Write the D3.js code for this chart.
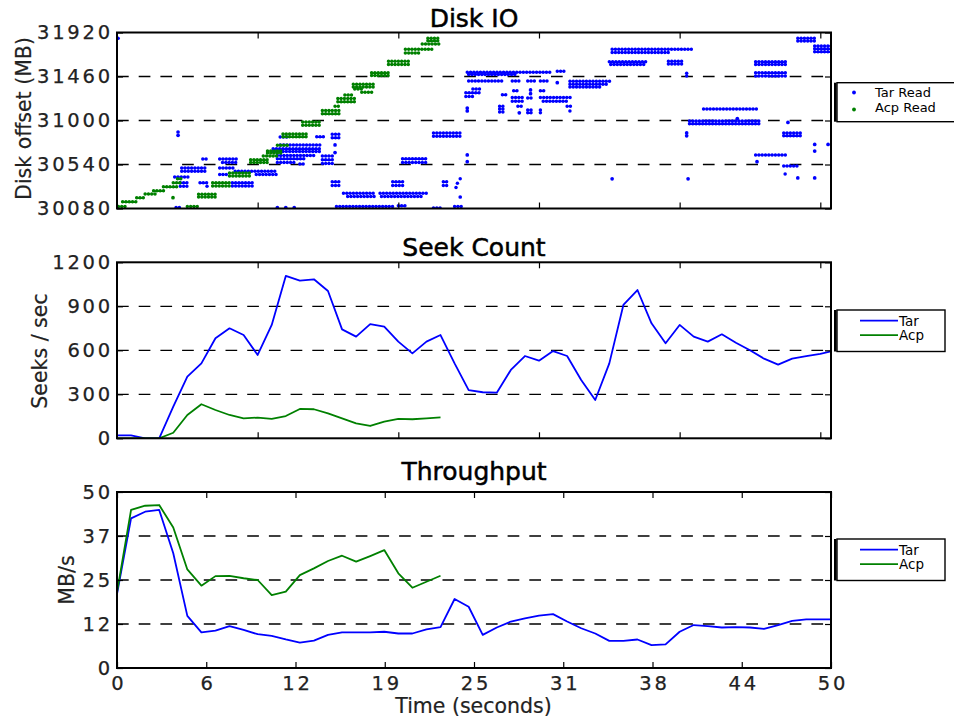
<!DOCTYPE html>
<html>
<head>
<meta charset="utf-8">
<script src="https://cdn.jsdelivr.net/npm/d3@7"></script>
<style>
  body { margin: 0; background: #fff; }
  svg { display: block; }
  text { font-family: "DejaVu Sans", sans-serif; }
</style>
</head>
<body>
<svg id="chart" width="954" height="719"></svg>
<script>
// ---- Disk IO trace: read extents as [start s, end s, offset MB] ----
const tarRuns = [
  [0.07,0.07,31860],
  [4.34,4.34,30880],[4.34,4.34,30845],
  [6.1,6.4,30597],
  [7.3,8.5,30597],[7.5,8.5,30560],
  [4.6,6.3,30503],[4.6,6.4,30470],
  [7.3,8.3,30503],
  [7.3,7.8,30435],[9.9,11.4,30435],
  [8.4,11.4,30470],
  [4.1,5.2,30409],
  [4.5,5.0,30350],[4.5,5.0,30312],
  [5.9,6.6,30350],[6.4,6.6,30312],
  [8.2,9.7,30350],[8.2,9.7,30315],
  [4.2,4.6,30090],
  [11.6,12.3,30827],
  [11.6,14.6,30745],
  [11.1,14.6,30705],[11.1,14.6,30675],
  [11.4,14.2,30635],[11.4,13.3,30600],
  [11.4,12.8,30560],[13.0,13.4,30545],
  [14.6,15.4,30630],[14.6,15.4,30590],[14.6,15.4,30550],
  [14.2,14.8,30830],
  [15.3,16.0,30855],[15.3,16.0,30820],
  [15.5,15.5,30745],[15.5,15.5,30665],
  [20.3,22.0,30600],[20.3,22.0,30562],
  [22.5,24.4,30870],[22.5,24.4,30835],
  [24.9,24.9,30640],[24.9,24.9,30570],
  [11.4,11.4,30090],[12.0,12.0,30090],[12.6,12.6,30090],
  [15.3,15.8,30360],[15.3,15.8,30320],
  [19.6,20.4,30360],[19.6,20.4,30320],
  [23.2,23.5,30360],[23.2,23.5,30320],
  [24.4,24.6,30390],[24.2,24.4,30345],[24.1,24.2,30300],
  [24.4,24.4,30200],
  [16.1,18.3,30240],[16.4,18.3,30205],
  [18.7,22.0,30240],[18.8,21.7,30205],
  [15.6,19.8,30100],[20.0,20.5,30110],
  [22.5,23.2,30085],[24.0,24.5,30100],
  [24.9,30.9,31505],[31.3,32.0,31515],[25.0,28.5,31480],
  [25.0,27.5,31413],[28.1,28.8,31413],[29.2,29.7,31413],[30.1,30.6,31413],[31.3,31.3,31395],
  [32.2,35.2,31410],[32.2,35.0,31380],[32.2,34.5,31350],
  [25.3,26.0,31330],[24.8,25.8,31290],[24.8,25.5,31250],
  [24.9,24.9,31130],[24.9,24.9,31100],
  [28.2,28.6,31310],[29.4,29.4,31320],[29.4,29.4,31280],[30.1,30.5,31310],
  [27.4,27.7,31270],
  [28.1,29.0,31240],[28.1,29.0,31200],[29.2,29.6,31235],
  [30.1,32.4,31240],[30.3,32.0,31200],
  [27.2,27.6,31150],[27.2,27.6,31120],[27.2,27.6,31090],
  [28.5,28.9,31150],[28.6,28.6,31080],
  [29.2,29.6,31110],[29.2,29.6,31080],
  [30.1,30.3,31110],[30.1,30.3,31080],
  [32.0,32.3,31150],[32.2,32.3,31100],
  [35.2,35.2,30390],
  [35.2,40.9,31745],[35.2,39.2,31712],
  [35.0,37.7,31615],[35.1,37.6,31585],
  [39.2,40.3,31620],[39.2,40.3,31590],
  [40.5,40.6,31495],[40.5,40.6,31465],
  [40.6,40.6,30390],
  [40.5,40.5,30870],[40.5,40.5,30840],
  [41.7,45.6,31120],
  [40.7,45.7,30995],[40.7,45.7,30965],
  [44.1,44.1,31020],
  [45.4,47.6,31615],[45.4,47.6,31585],
  [45.4,47.6,31500],[45.4,47.6,31465],
  [47.4,48.6,30870],[47.4,48.6,30840],
  [47.7,47.7,30980],
  [49.6,49.6,30750],[49.6,49.6,30680],
  [50.55,50.55,30750],
  [45.4,47.6,30640],
  [45.5,45.5,30570],
  [47.4,48.5,30525],
  [47.5,47.7,30440],
  [48.4,48.4,30400],
  [49.6,49.6,30400],
  [48.4,49.8,31860],[48.4,49.8,31830],
  [49.6,50.8,31780],[49.6,50.8,31750],[49.6,50.8,31720]
];
const acpRuns = [
  [0.1,0.7,30100],
  [0.4,1.5,30150],
  [1.4,2.0,30193],
  [2.0,2.8,30232],
  [2.6,3.5,30266],
  [3.3,4.3,30308],
  [4.0,4.7,30350],
  [4.3,4.7,30390],
  [3.98,3.98,30193],
  [5.0,5.9,30100],
  [5.8,7.0,30230],[5.8,7.0,30200],
  [6.8,8.2,30350],[6.8,8.2,30315],
  [8.0,9.6,30450],[8.0,9.6,30420],
  [9.5,10.7,30590],[9.5,10.7,30560],
  [10.4,11.4,30630],
  [10.7,11.8,30680],[10.7,11.8,30660],
  [11.4,12.3,30740],
  [11.8,13.5,30860],[11.8,13.5,30830],
  [13.2,14.6,30985],[13.2,14.6,30950],
  [14.6,15.9,31105],[14.6,15.9,31070],
  [15.5,15.9,31150],
  [15.7,17.1,31230],[15.7,17.1,31195],
  [16.2,16.7,31267],
  [16.8,18.3,31380],[16.8,18.3,31350],
  [16.9,17.6,31330],
  [17.4,18.2,31295],
  [18.1,19.5,31500],[18.1,19.5,31470],
  [19.3,20.8,31620],[19.3,20.8,31585],
  [20.5,22.4,31745],[20.5,21.5,31705],
  [21.7,23.0,31800],
  [22.1,23.0,31860],[22.1,23.0,31835]
];

// ---- Per-second series (index = second) ----
const seekTar = [20,20,0,0,216,420,511,682,750,704,568,773,1107,1075,1084,1004,743,693,779,761,659,579,659,704,511,329,314,311,466,561,529,595,561,398,261,511,909,1011,784,648,773,693,659,709,652,600,543,502,543,561,575,598];
const seekAcp = [0,0,0,0,38,159,232,193,159,136,141,132,152,200,198,170,136,102,84,113,132,130,136,143];
const thrTar = [21,42.5,44.4,44.9,32.6,14.8,10.1,10.6,11.9,10.8,9.6,9.1,8.1,7.2,7.8,9.4,10.1,10.1,10.1,10.3,9.8,9.8,11.0,11.6,19.6,17.4,9.4,11.5,13.2,14.1,14.9,15.3,13.2,11.3,9.8,7.7,7.7,8.1,6.5,6.7,10.3,12.2,11.9,11.5,11.6,11.5,11.1,12.2,13.4,13.8,13.8,13.8];
const thrAcp = [21.5,44.9,46.1,46.3,39.9,28.0,23.4,26.1,26.2,25.5,25.0,20.7,21.7,26.4,28.3,30.4,31.9,30.2,31.8,33.5,26.9,22.8,24.5,26.2];

// ---- Axis ticks ----
const diskTicks = [30080,30540,31000,31460,31920];
const seekTicks = [0,300,600,900,1200];
const thrTicks = [0,12.5,25,37.5,50];
const thrTickLabels = ["0","12","25","37","50"];
const timeTicks = [10,20,30,40,50];
const timeTickLabels = ["0","6","12","19","25","31","38","44","50"];
const timeMax = 50.76;

const BLUE = "#0000ff", GREEN = "#008000";
const svg = d3.select("#chart");
const X0 = 117, X1 = 831;
const x = d3.scaleLinear().domain([0, timeMax]).range([X0, X1]);
const labelTickPos = timeTickLabels.map((_, i) => timeMax * i / (timeTickLabels.length - 1));

function panel(id, top, bottom, yDomain, yTicks) {
  const y = d3.scaleLinear().domain(yDomain).range([bottom, top]);
  const g = svg.append("g").attr("class", "panel-" + id);
  g.append("clipPath").attr("id", "clip-" + id).append("rect")
    .attr("x", X0).attr("y", top).attr("width", X1 - X0).attr("height", bottom - top);
  g.append("g").selectAll("line").data(yTicks.slice(1, -1)).join("line")
    .attr("x1", X0).attr("x2", X1).attr("y1", d => y(d)).attr("y2", d => y(d))
    .attr("stroke", "#000").attr("stroke-width", 1.3).attr("stroke-dasharray", "11.7 10");
  const plot = g.append("g").attr("clip-path", `url(#clip-${id})`);
  return { g, y, plot, top, bottom };
}

function styleAxis(sel) {
  sel.select(".domain").remove();
  sel.selectAll(".tick line").attr("stroke", "#000").attr("stroke-width", 1.2);
  sel.selectAll("text").attr("font-size", 19.5).attr("letter-spacing", 2.8)
    .attr("fill", "#222").attr("stroke", "#222").attr("stroke-width", 0.25)
    .attr("font-family", "DejaVu Sans");
}

function axes(p, yTicks, yFmt, xTicks, xFmt) {
  const { g, y, top, bottom } = p;
  g.append("g").attr("transform", `translate(${X0},0)`)
    .call(d3.axisLeft(y).tickValues(yTicks).tickFormat(yFmt).tickSizeInner(-6).tickSizeOuter(0).tickPadding(4))
    .call(styleAxis);
  g.append("g").attr("transform", `translate(${X1},0)`)
    .call(d3.axisRight(y).tickValues(yTicks).tickFormat("").tickSizeInner(-6).tickSizeOuter(0))
    .call(styleAxis);
  g.append("g").attr("transform", `translate(0,${bottom})`)
    .call(d3.axisBottom(x).tickValues(xTicks).tickFormat(xFmt || "").tickSizeInner(-6).tickSizeOuter(0).tickPadding(8))
    .call(styleAxis)
    .selectAll("text").attr("dx", 1.4);
  g.append("g").attr("transform", `translate(0,${top})`)
    .call(d3.axisTop(x).tickValues(xTicks).tickFormat("").tickSizeInner(-6).tickSizeOuter(0))
    .call(styleAxis);
  g.append("rect").attr("x", X0).attr("y", top).attr("width", X1 - X0).attr("height", bottom - top)
    .attr("fill", "none").attr("stroke", "#000").attr("stroke-width", 2);
}

function title(text, baseline) {
  svg.append("text").attr("x", 474).attr("y", baseline).attr("text-anchor", "middle")
    .attr("font-size", 25).attr("fill", "#000").attr("stroke", "#000").attr("stroke-width", 0.5)
    .text(text);
}

function yLabel(text, bx, cy) {
  svg.append("text").attr("transform", `translate(${bx},${cy}) rotate(-90)`)
    .attr("text-anchor", "middle").attr("font-size", 20.5).attr("fill", "#222")
    .attr("stroke", "#222").attr("stroke-width", 0.2).text(text);
}

function legendBox(top, h, w) {
  const lg = svg.append("g");
  lg.append("rect").attr("x", 837).attr("y", top).attr("width", w).attr("height", h)
    .attr("fill", "#fff").attr("stroke", "#000").attr("stroke-width", 1.4);
  lg.append("line").attr("x1", 835.3).attr("x2", 835.3).attr("y1", top).attr("y2", top + h)
    .attr("stroke", "#000").attr("stroke-width", 2.6);
  return lg;
}

function lineLegend(top, items) {
  const lg = legendBox(top, 41.5, 108);
  items.forEach((it, i) => {
    const ly = top + 10.7 + i * 14.5;
    lg.append("line").attr("x1", 860).attr("x2", 898).attr("y1", ly).attr("y2", ly)
      .attr("stroke", it.color).attr("stroke-width", 1.8);
    lg.append("text").attr("x", 899).attr("y", ly + 4.8).attr("font-size", 13.5)
      .attr("fill", "#000").text(it.label);
  });
}

// ---- Panel 1: Disk IO scatter ----
const p1 = panel("disk", 32.5, 208.5, [30080, 31920], diskTicks);
function drawRuns(p, runs, color) {
  const multi = runs.filter(r => r[0] !== r[1]);
  const single = runs.filter(r => r[0] === r[1]);
  p.plot.append("g").selectAll("line").data(multi).join("line")
    .attr("x1", d => x(d[0])).attr("x2", d => x(d[1]))
    .attr("y1", d => p.y(d[2])).attr("y2", d => p.y(d[2]))
    .attr("stroke", color).attr("stroke-width", 3.5)
    .attr("stroke-linecap", "round").attr("stroke-dasharray", "0 3.3");
  p.plot.append("g").selectAll("circle").data(single).join("circle")
    .attr("cx", d => x(d[0])).attr("cy", d => p.y(d[2])).attr("r", 1.85).attr("fill", color);
}
drawRuns(p1, tarRuns, BLUE);
drawRuns(p1, acpRuns, GREEN);
axes(p1, diskTicks, d => String(d), timeTicks, null);
title("Disk IO", 26.5);
yLabel("Disk offset (MB)", 31, 118.5);
{
  const lg = legendBox(82.7, 39, 140);
  [["Tar Read", BLUE, 92.5, 96.5], ["Acp Read", GREEN, 109.5, 111.8]].forEach(([t, c, cy, by]) => {
    lg.append("circle").attr("cx", 854).attr("cy", cy).attr("r", 1.9).attr("fill", c);
    lg.append("text").attr("x", 875).attr("y", by).attr("font-size", 13).attr("fill", "#000").text(t);
  });
}

// ---- Panel 2: Seek count ----
const p2 = panel("seek", 262.3, 438.3, [0, 1200], seekTicks);
const seekLine = d3.line().x((d, i) => x(i)).y(d => p2.y(d));
p2.plot.append("path").datum(seekTar).attr("d", seekLine).attr("fill", "none")
  .attr("stroke", BLUE).attr("stroke-width", 1.8).attr("stroke-linejoin", "round");
p2.plot.append("path").datum(seekAcp).attr("d", seekLine).attr("fill", "none")
  .attr("stroke", GREEN).attr("stroke-width", 1.8).attr("stroke-linejoin", "round");
axes(p2, seekTicks, d => String(d), timeTicks, null);
title("Seek Count", 256);
yLabel("Seeks / sec", 46.5, 351);
lineLegend(310, [{ label: "Tar", color: BLUE }, { label: "Acp", color: GREEN }]);

// ---- Panel 3: Throughput ----
const p3 = panel("thr", 492, 668, [0, 50], thrTicks);
const thrLine = d3.line().x((d, i) => x(i)).y(d => p3.y(d));
p3.plot.append("path").datum(thrTar).attr("d", thrLine).attr("fill", "none")
  .attr("stroke", BLUE).attr("stroke-width", 1.8).attr("stroke-linejoin", "round");
p3.plot.append("path").datum(thrAcp).attr("d", thrLine).attr("fill", "none")
  .attr("stroke", GREEN).attr("stroke-width", 1.8).attr("stroke-linejoin", "round");
axes(p3, thrTicks, (d, i) => thrTickLabels[i], labelTickPos, (d, i) => timeTickLabels[i]);
title("Throughput", 480);
yLabel("MB/s", 74, 580);
lineLegend(539, [{ label: "Tar", color: BLUE }, { label: "Acp", color: GREEN }]);

svg.append("text").attr("x", 473.5).attr("y", 713).attr("text-anchor", "middle")
  .attr("font-size", 20.5).attr("fill", "#222").attr("stroke", "#222").attr("stroke-width", 0.2)
  .text("Time (seconds)");
</script>
</body>
</html>
